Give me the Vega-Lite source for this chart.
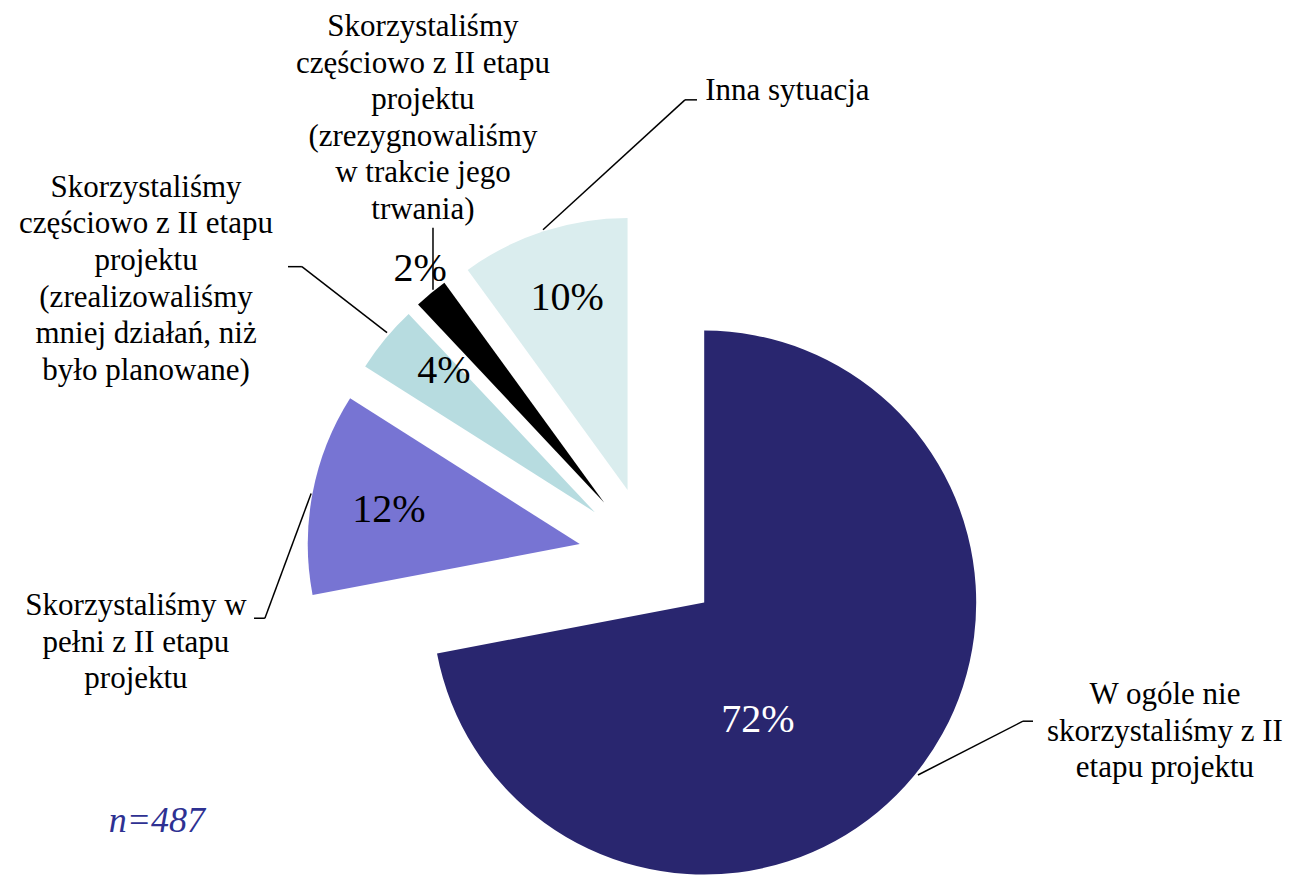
{
  "$schema": "https://vega.github.io/schema/vega-lite/v6.json",
  "width": 1290,
  "height": 875,
  "autosize": {"type": "fit", "contains": "padding"},
  "padding": 0,
  "background": "white",
  "config": {"view": {"stroke": null}},
  "datasets": {
    "slices": [
      {"category": "W ogóle nie skorzystaliśmy z II etapu projektu", "value": 72, "order": 1},
      {"category": "Skorzystaliśmy w pełni z II etapu projektu", "value": 12, "order": 2},
      {"category": "Skorzystaliśmy częściowo z II etapu projektu (zrealizowaliśmy mniej działań, niż było planowane)", "value": 4, "order": 3},
      {"category": "Skorzystaliśmy częściowo z II etapu projektu (zrezygnowaliśmy w trakcie jego trwania)", "value": 2, "order": 4},
      {"category": "Inna sytuacja", "value": 10, "order": 5}
    ],
    "pctLabels": [
      {"text": "72%", "x": 0.399, "y": -0.643},
      {"text": "12%", "x": -0.958, "y": 0.129},
      {"text": "4%", "x": -0.756, "y": 0.643},
      {"text": "2%", "x": -0.843, "y": 1.018},
      {"text": "10%", "x": -0.303, "y": 0.912}
    ],
    "catLabels": [
      {"lines": ["W ogóle nie", "skorzystaliśmy z II", "etapu projektu"], "x": 1.895, "y": -0.540},
      {"lines": ["Skorzystaliśmy w", "pełni z II etapu", "projektu"], "x": -1.888, "y": -0.213},
      {"lines": ["Skorzystaliśmy", "częściowo z II etapu", "projektu", "(zrealizowaliśmy", "mniej działań, niż", "było planowane)"], "x": -1.851, "y": 1.327},
      {"lines": ["Skorzystaliśmy", "częściowo z II etapu", "projektu", "(zrezygnowaliśmy", "w trakcie jego", "trwania)"], "x": -0.833, "y": 1.919},
      {"lines": ["Inna sytuacja"], "x": 0.507, "y": 1.684}
    ],
    "leaders": [
      {"x": 0.987, "y": -0.801, "x2": 1.373, "y2": -0.603},
      {"x": 1.373, "y": -0.603, "x2": 1.410, "y2": -0.603},
      {"x": -1.454, "y": -0.224, "x2": -1.414, "y2": -0.224},
      {"x": -1.414, "y": -0.224, "x2": -1.244, "y2": 0.235},
      {"x": -1.329, "y": 1.070, "x2": -1.278, "y2": 1.070},
      {"x": -1.278, "y": 1.070, "x2": -0.965, "y2": 0.827},
      {"x": -0.796, "y": 1.213, "x2": -0.796, "y2": 0.985},
      {"x": 0.1746, "y": 1.684, "x2": 0.1305, "y2": 1.684},
      {"x": 0.1305, "y": 1.684, "x2": -0.3915, "y2": 1.206}
    ],
    "note": [
      {"text": "n=487", "x": -1.811, "y": -1.011}
    ]
  },
  "encoding": {
    "x": {"field": "x", "type": "quantitative", "stack": false, "scale": {"domain": [-2.3879, 2.3548], "nice": false, "zero": false}, "axis": null},
    "y": {"field": "y", "type": "quantitative", "stack": false, "scale": {"domain": [-1.1654, 2.0515], "nice": false, "zero": false}, "axis": null}
  },
  "layer": [
    {
      "data": {"name": "slices"},
      "transform": [
        {"stack": "value", "groupby": [], "sort": [{"field": "order", "order": "ascending"}], "as": ["v0", "v1"]},
        {"calculate": "PI * (datum.v0 + datum.v1) / 100", "as": "mid"},
        {"calculate": "0.261 * sin(datum.mid)", "as": "x"},
        {"calculate": "0.261 * cos(datum.mid)", "as": "y"}
      ],
      "mark": {"type": "arc", "outerRadius": 272},
      "encoding": {
        "theta": {"field": "v0", "type": "quantitative", "stack": false, "scale": {"domain": [0, 100]}},
        "theta2": {"field": "v1"},
        "color": {
          "field": "category",
          "type": "nominal",
          "scale": {
            "domain": [
              "W ogóle nie skorzystaliśmy z II etapu projektu",
              "Skorzystaliśmy w pełni z II etapu projektu",
              "Skorzystaliśmy częściowo z II etapu projektu (zrealizowaliśmy mniej działań, niż było planowane)",
              "Skorzystaliśmy częściowo z II etapu projektu (zrezygnowaliśmy w trakcie jego trwania)",
              "Inna sytuacja"
            ],
            "range": ["#29266F", "#7774D3", "#B7DCE0", "#000000", "#DAEDEE"]
          },
          "legend": null
        }
      }
    },
    {
      "data": {"name": "leaders"},
      "mark": {"type": "rule", "color": "#000000", "strokeWidth": 1.5},
      "encoding": {
        "x2": {"field": "x2"},
        "y2": {"field": "y2"}
      }
    },
    {
      "data": {"name": "pctLabels"},
      "mark": {"type": "text", "font": "Liberation Serif", "fontSize": 40, "align": "center", "baseline": "alphabetic"},
      "encoding": {
        "text": {"field": "text", "type": "nominal"},
        "color": {"condition": {"test": "datum.text === '72%'", "value": "#FFFFFF"}, "value": "#000000"}
      }
    },
    {
      "data": {"name": "catLabels"},
      "mark": {"type": "text", "font": "Liberation Serif", "fontSize": 31, "lineHeight": 36.6, "align": "center", "baseline": "alphabetic", "color": "#000000"},
      "encoding": {
        "text": {"field": "lines", "type": "nominal"}
      }
    },
    {
      "data": {"name": "note"},
      "mark": {"type": "text", "font": "Liberation Serif", "fontSize": 36, "fontStyle": "italic", "align": "center", "baseline": "alphabetic", "color": "#2E3192"},
      "encoding": {
        "text": {"field": "text", "type": "nominal"}
      }
    }
  ]
}
